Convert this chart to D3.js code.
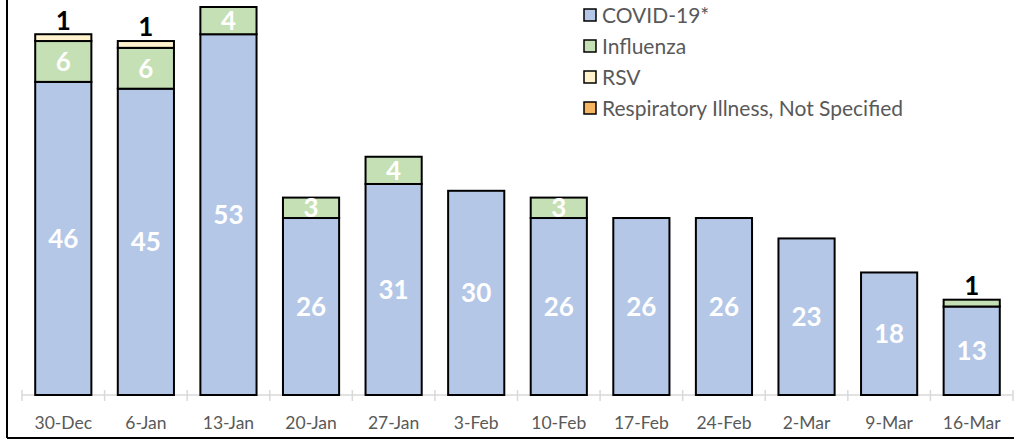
<!DOCTYPE html>
<html><head><meta charset="utf-8">
<script src="https://cdn.jsdelivr.net/npm/d3@7"></script>
<style>html,body{margin:0;padding:0;background:#fff;}svg{display:block;}</style>
</head><body>
<svg id="chart" width="1014" height="442"></svg>
<script>
const categories = ["30-Dec","6-Jan","13-Jan","20-Jan","27-Jan","3-Feb","10-Feb","17-Feb","24-Feb","2-Mar","9-Mar","16-Mar"];
const covid     = [46,45,53,26,31,30,26,26,26,23,18,13];
const influenza = [6,6,4,3,4,0,3,0,0,0,0,1];
const rsv       = [1,1,0,0,0,0,0,0,0,0,0,0];
const respNS    = [0,0,0,0,0,0,0,0,0,0,0,0];
const seriesNames = ["COVID-19*","Influenza","RSV","Respiratory Illness, Not Specified"];
const seriesColors = ["#b4c7e7","#c5e0b4","#fff2cc","#f5b561"];

const svg = d3.select("#chart");
const font = "Lato, 'Open Sans', sans-serif";

// frame (left and bottom edges visible)
svg.append("line").attr("x1",7).attr("x2",7).attr("y1",0).attr("y2",438).attr("stroke","#000").attr("stroke-width",2);
svg.append("line").attr("x1",7).attr("x2",1014).attr("y1",438).attr("y2",438).attr("stroke","#000").attr("stroke-width",2);

const x = d3.scaleBand().domain(categories).range([22,1013]).paddingInner(0.32).paddingOuter(0.16);
const y = d3.scaleLinear().domain([0,57]).range([395,7]);

const table = categories.map((c,i)=>({cat:c, s0:covid[i], s1:influenza[i], s2:rsv[i], s3:respNS[i]}));
const stack = d3.stack().keys(["s0","s1","s2","s3"])(table);

// axis line and ticks
const axisG = svg.append("g");
axisG.append("line").attr("x1",22).attr("x2",1013).attr("y1",395).attr("y2",395).attr("stroke","#d9d9d9").attr("stroke-width",1.5);
const tickXs = categories.map(c=>x(c) - x.step()*x.paddingInner()/2).concat([1013]);
axisG.selectAll("line.tk").data(tickXs).enter().append("line").attr("class","tk")
  .attr("x1",d=>d).attr("x2",d=>d).attr("y1",390).attr("y2",401).attr("stroke","#d9d9d9").attr("stroke-width",1.5);
axisG.selectAll("text").data(categories).enter().append("text")
  .attr("x",d=>x(d)+x.bandwidth()/2).attr("y",429).attr("text-anchor","middle")
  .attr("font-family",font).attr("font-size",17.5).attr("fill","#595959").text(d=>d);

// bars
stack.forEach((layer,k)=>{
  const g = svg.append("g");
  g.selectAll("rect").data(layer.filter(d=>d[1]-d[0]>0)).enter().append("rect")
    .attr("x",d=>x(d.data.cat)).attr("width",x.bandwidth())
    .attr("y",d=>y(d[1])).attr("height",d=>y(d[0])-y(d[1]))
    .attr("fill",seriesColors[k]).attr("stroke","#000").attr("stroke-width",2);
});

// labels
stack.forEach((layer,k)=>{
  layer.forEach(d=>{
    const v = d[1]-d[0];
    if (v<=0) return;
    const cx = x(d.data.cat)+x.bandwidth()/2;
    const h = y(d[0])-y(d[1]);
    if (h >= 18) {
      svg.append("text").attr("x",cx).attr("y",(y(d[0])+y(d[1]))/2).attr("dy","0.36em")
        .attr("text-anchor","middle").attr("font-family",font).attr("font-weight","bold")
        .attr("font-size",26).attr("fill","#fff").text(v);
    } else {
      svg.append("text").attr("x",cx).attr("y",y(d[1])-14).attr("dy","0.36em")
        .attr("text-anchor","middle").attr("font-family",font).attr("font-weight","bold")
        .attr("font-size",26).attr("fill","#000").text(v);
    }
  });
});

// legend
const lg = svg.append("g");
seriesNames.forEach((n,i)=>{
  const yy = 15 + i*31;
  lg.append("rect").attr("x",584).attr("y",yy-6).attr("width",12).attr("height",12)
    .attr("fill",seriesColors[i]).attr("stroke","#000").attr("stroke-width",1.5);
  lg.append("text").attr("x",602).attr("y",yy).attr("dy","0.36em").attr("font-family",font)
    .attr("font-size",21).attr("fill","#595959").text(n);
});
</script>
</body></html>
